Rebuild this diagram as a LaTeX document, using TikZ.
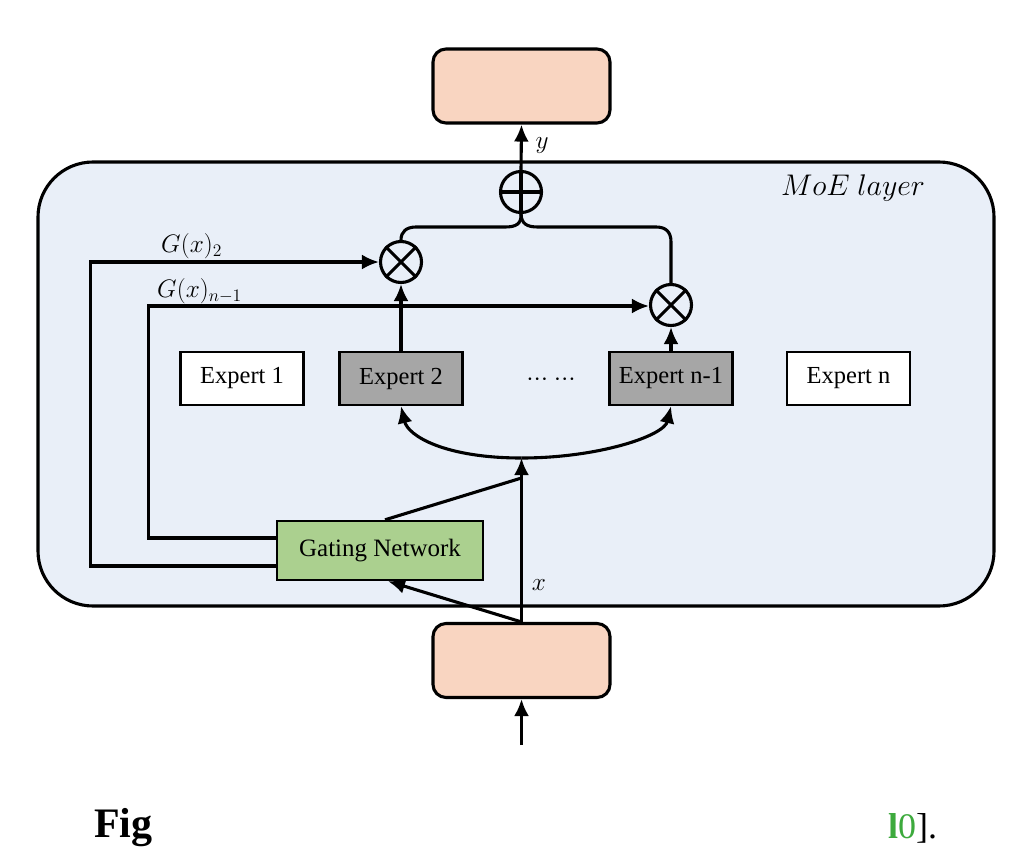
\documentclass[tikz,border=0pt]{standalone}
\usepackage{fontspec}
\setmainfont{Liberation Serif}
\usetikzlibrary{arrows.meta,calc}
\definecolor{peach}{HTML}{F9D5C1}
\definecolor{moebg}{HTML}{E9EFF8}
\definecolor{expgray}{HTML}{A6A6A6}
\definecolor{gatefill}{HTML}{ABD08F}
\definecolor{cgreen}{HTML}{3DAA3D}
\tikzset{
  lw/.style={line width=3.1pt},
  arr/.style={lw,-{Latex[length=17pt,width=15pt]}},
  peachbox/.style={draw,lw,fill=peach,rounded corners=13pt,minimum width=177pt,minimum height=74pt,inner sep=0pt},
  expbox/.style={draw,line width=2.4pt,minimum width=123pt,minimum height=53pt,inner sep=0pt,font=\fontsize{24.5}{28}\selectfont},
  opnode/.style={draw,lw,circle,minimum size=41pt,inner sep=0pt},
  lbl/.style={font=\fontsize{20.74}{26}\selectfont,inner sep=0pt,scale=1.22}
}
\begin{document}
\begin{tikzpicture}[x=1pt,y=-1pt]
\useasboundingbox[fill=white] (0,0) rectangle (1024,864);
% MoE layer
\node[draw,lw,fill=moebg,rounded corners=55pt,minimum width=956pt,minimum height=444pt,inner sep=0pt] (moe) at (516,384) {};
\node[font=\fontsize{24.88}{30}\selectfont,inner sep=0pt,scale=1.2] (moelbl) at (853,188) {$MoE\ layer$};
% top/bottom boxes
\node[peachbox] (top) at (521.5,86) {};
\node[peachbox] (bot) at (521.5,660.5) {};
% operators
\node[opnode] (plus) at (521,192) {};
\draw[lw] (plus.north) -- (plus.south) (plus.west) -- (plus.east);
\node[opnode] (m1) at (401,262) {};
\draw[lw] (m1.north west) -- (m1.south east) (m1.north east) -- (m1.south west);
\node[opnode] (m2) at (671,305) {};
\draw[lw] (m2.north west) -- (m2.south east) (m2.north east) -- (m2.south west);
% experts
\node[expbox,fill=white] (e1) at (242,378.5) {Expert 1};
\node[expbox,fill=expgray] (e2) at (401,378.5) {Expert 2};
\node[font=\fontsize{22}{26}\selectfont,inner sep=0pt] (dots) at (551,382) {\textperiodcentered\textperiodcentered\textperiodcentered\ \textperiodcentered\textperiodcentered\textperiodcentered};
\node[expbox,fill=expgray] (en1) at (671,378.5) {Expert n-1};
\node[expbox,fill=white] (en) at (848.5,378.5) {Expert n};
% gating
\node[draw,line width=2.4pt,fill=gatefill,minimum width=206pt,minimum height=59pt,inner sep=0pt,font=\fontsize{25}{28}\selectfont] (gate) at (380,550.5) {Gating Network};
% coordinates
\coordinate (in) at (521.5,745);
\coordinate (split) at (521.5,458);
\coordinate (tap) at (521.5,478);
% sum to output
\draw[arr] (plus.north) -- (top.south);
\node[lbl] (ylbl) at (542,146) {$y$};
% products to sum
\draw[lw] (plus.south) .. controls (521.5,224) and (516,227) .. (505,227) -- (416,227) .. controls (406,227) and (401,232) .. (m1.north);
\draw[lw] (plus.south) .. controls (521.5,224) and (527,227) .. (538,227) -- (656,227) .. controls (666,227) and (671,232) .. (671,242) -- (m2.north);
% experts to products
\draw[arr] (e2.north) -- (m1.south);
\draw[arr] (en1.north) -- (m2.south);
% gate outputs
\draw[arr] ([yshift=-15.5pt]gate.west) -- ++(-185,0) |- (m1.west);
\draw[arr] ([yshift=12.5pt]gate.west) -- ++(-127,0) |- ([yshift=-1pt]m2.west);
\node[lbl,anchor=west] (g2) at (161,246) {$G(x)_2$};
\node[lbl,anchor=west] (gn) at (157,291) {$G(x)_{n-1}$};
% input
\draw[arr] (in) -- (bot.south);
\draw[arr] (bot.north) -- (split);
\node[lbl] (xlbl) at (539,585) {$x$};
\draw[arr] (split) .. controls (445,458) and (408,436) .. (e2.south);
\draw[arr] (split) .. controls (598,458) and (664,436) .. (en1.south);
\draw[arr] (bot.north) -- ([xshift=8pt]gate.south);
\draw[lw] ([xshift=5pt]gate.north) -- (tap);
% caption fragments
\node[font=\fontsize{42}{46}\selectfont\bfseries,anchor=west,inner sep=0pt] (fig) at (94,828) {Fig};
\node[font=\fontsize{36}{40}\selectfont,anchor=west,inner sep=0pt] (ref) at (888,828) {{\color{cgreen}\textbf{l}0}].};
\end{tikzpicture}
\end{document}
